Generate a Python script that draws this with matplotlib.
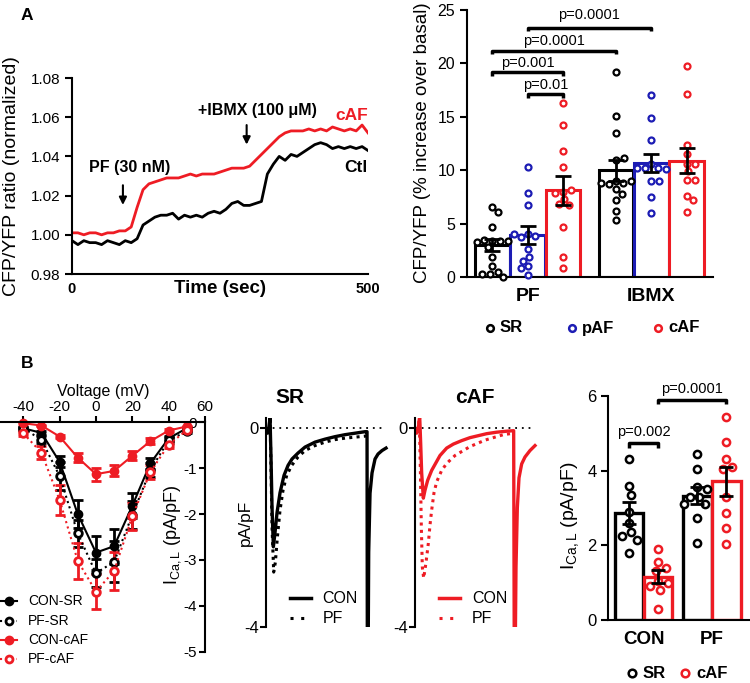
import numpy as np
import matplotlib
matplotlib.use("Agg")
import matplotlib.pyplot as plt
from matplotlib.lines import Line2D
from matplotlib.ticker import FormatStrFormatter

plt.rcParams['font.family'] = ['Liberation Sans', 'DejaVu Sans']
plt.rcParams['mathtext.fontset'] = 'custom'
plt.rcParams['mathtext.rm'] = 'Liberation Sans'
plt.rcParams['mathtext.it'] = 'Liberation Sans:italic'
plt.rcParams['axes.unicode_minus'] = False

RED = '#ee1c24'
BLUE = '#1c1cb4'

# --- A: FRET time course (CFP/YFP ratio) ---
time_s = np.arange(0, 505, 10)
ratio_caf = [1.001, 1.001, 1.000, 1.001, 1.001, 1.000, 1.001, 1.001, 1.002, 1.002,
             1.004, 1.014, 1.023, 1.026, 1.027, 1.028, 1.029, 1.029, 1.029, 1.030,
             1.031, 1.030, 1.031, 1.031, 1.031, 1.032, 1.033, 1.034, 1.034, 1.034,
             1.035, 1.038, 1.041, 1.044, 1.047, 1.050, 1.052, 1.053, 1.053, 1.053,
             1.054, 1.053, 1.054, 1.053, 1.055, 1.054, 1.053, 1.054, 1.053, 1.056, 1.052]
ratio_ctl = [0.997, 0.995, 0.997, 0.996, 0.996, 0.995, 0.997, 0.996, 0.995, 0.997,
             0.996, 0.998, 1.005, 1.007, 1.009, 1.010, 1.010, 1.011, 1.008, 1.010,
             1.009, 1.010, 1.009, 1.011, 1.012, 1.011, 1.013, 1.016, 1.017, 1.015,
             1.015, 1.016, 1.017, 1.031, 1.036, 1.040, 1.038, 1.041, 1.040, 1.042,
             1.044, 1.046, 1.047, 1.046, 1.044, 1.045, 1.044, 1.045, 1.044, 1.045, 1.043]

# --- A: % increase over basal ---
grp_names = ['PF', 'IBMX']
pf_sr = [6.6, 6.1, 4.7, 3.4, 3.4, 3.5, 3.4, 3.3, 2.8, 1.9, 1.0, 0.5, 0.3, 0.3, 0.0]
pf_paf = [10.3, 7.9, 6.7, 4.0, 3.8, 3.7, 4.0, 2.6, 1.9, 1.5, 1.0, 0.8, 0.2]
pf_caf = [16.3, 14.2, 11.8, 10.3, 8.0, 8.1, 7.9, 7.3, 6.8, 6.7, 4.7, 1.9, 0.85]
ib_sr = [19.2, 15.1, 13.5, 11.0, 11.1, 9.0, 8.8, 8.7, 8.8, 9.0, 8.2, 7.8, 7.2, 6.2, 5.3]
ib_paf = [17.0, 14.9, 12.8, 10.6, 10.2, 10.2, 10.1, 10.2, 9.0, 9.0, 7.5, 6.0]
ib_caf = [19.8, 17.1, 12.4, 11.5, 10.6, 10.6, 9.9, 9.1, 9.1, 7.6, 7.2, 6.1]
a_means = [3.0, 3.9, 8.1, 10.0, 10.7, 10.9]
a_sems = [0.6, 0.85, 1.35, 1.0, 0.85, 1.15]

# --- B: I-V relation ---
volt = [-40, -30, -20, -10, 0, 10, 20, 30, 40, 50]
iv_con_sr = [-0.13, -0.23, -0.86, -2.0, -2.84, -2.70, -1.82, -0.89, -0.35, -0.13]
iv_con_sr_e = [0.03, 0.05, 0.12, 0.30, 0.37, 0.38, 0.27, 0.12, 0.05, 0.03]
iv_pf_sr = [-0.13, -0.38, -1.17, -2.42, -3.29, -3.04, -2.02, -1.04, -0.39, -0.20]
iv_pf_sr_e = [0.03, 0.08, 0.30, 0.30, 0.30, 0.45, 0.30, 0.15, 0.06, 0.04]
iv_con_caf = [-0.02, -0.07, -0.31, -0.77, -1.13, -1.06, -0.73, -0.41, -0.18, -0.09]
iv_con_caf_e = [0.02, 0.02, 0.04, 0.10, 0.14, 0.12, 0.10, 0.06, 0.03, 0.02]
iv_pf_caf = [-0.24, -0.66, -1.69, -3.02, -3.69, -3.24, -2.05, -1.08, -0.49, -0.17]
iv_pf_caf_e = [0.05, 0.15, 0.33, 0.40, 0.39, 0.42, 0.30, 0.15, 0.06, 0.03]

# --- B: current traces (ms, pA/pF) ---
sr_con_t = [0, 5, 9, 13, 16, 19, 23, 28, 34, 43, 55, 67, 79, 97, 118, 148, 178, 208,
            238, 268, 298, 304, 305, 307, 309, 313, 319, 328, 337, 349, 361]
sr_con_i = [0.0, -0.1, 0.0, 0.2, -0.6, -1.6, -2.39, -2.1, -1.7, -1.3, -0.95, -0.75,
            -0.62, -0.5, -0.38, -0.28, -0.22, -0.17, -0.13, -0.1, -0.07, -0.07, -5.0,
            -5.0, -2.5, -1.31, -0.9, -0.62, -0.52, -0.45, -0.40]
sr_pf_t = [0, 5, 9, 13, 16, 19, 24, 29, 35, 43, 52, 63, 78, 97, 118, 148, 178, 208,
           238, 268, 298, 304]
sr_pf_i = [0.0, -0.1, 0.0, 0.15, -0.8, -2.0, -2.9, -2.7, -2.2, -1.65, -1.25, -0.95,
           -0.75, -0.58, -0.45, -0.35, -0.28, -0.23, -0.2, -0.18, -0.16, -0.15]
caf_con_t = [0, 5, 10, 14, 17, 20, 25, 30, 38, 50, 65, 75, 95, 115, 140, 165, 190,
             215, 245, 275, 296, 298, 300, 303, 307, 312, 320, 330, 345, 360]
caf_con_i = [0.0, -0.1, 0.0, 0.25, -0.3, -0.9, -1.41, -1.25, -1.05, -0.85, -0.67,
             -0.55, -0.4, -0.32, -0.25, -0.19, -0.15, -0.11, -0.08, -0.06, -0.05,
             -5.0, -5.0, -2.8, -1.6, -1.0, -0.72, -0.58, -0.45, -0.35]
caf_pf_t = [0, 5, 10, 13, 16, 19, 22, 26, 30, 35, 40, 45, 50, 57, 65, 80, 95, 120,
            165, 210, 265, 296]
caf_pf_i = [0.0, -0.1, 0.0, 0.2, -0.8, -2.0, -2.8, -3.02, -2.85, -2.6, -2.32, -1.95,
            -1.65, -1.3, -1.08, -0.85, -0.71, -0.55, -0.37, -0.24, -0.13, -0.1]

# --- B: peak ICa,L bars ---
b_groups = ['CON', 'PF']
con_sr_pts = [4.3, 3.6, 3.35, 2.9, 2.6, 2.35, 2.25, 2.15, 1.8]
con_caf_pts = [1.9, 1.55, 1.4, 1.3, 1.05, 1.0, 0.9, 0.8, 0.3]
pf_sr_pts = [4.45, 4.05, 3.55, 3.5, 3.3, 3.3, 3.1, 3.1, 2.72, 2.05]
pf_caf_pts = [5.45, 4.78, 4.3, 4.1, 4.05, 3.3, 2.87, 2.46, 2.03]
b_means = [2.86, 1.16, 3.33, 3.71]
b_sems = [0.3, 0.17, 0.23, 0.4]

W, H = 750, 683
fig = plt.figure(figsize=(W / 100, H / 100), dpi=100)


def box(l, t, r, b):
    return [l / W, 1 - b / H, (r - l) / W, (b - t) / H]


def fx(px):
    return px / W


def fy(py):
    return 1 - py / H


def swarm(vals, xpx, ypx, d):
    # simple greedy beeswarm, offsets in bar units
    steps = np.arange(0.5, 30, 0.5)
    cand = np.concatenate([[0.0], np.column_stack([steps, -steps]).ravel()])
    placed, offs = [], []
    for v in vals:
        y = v * ypx
        for c in cand:
            if all((c - px) ** 2 + (y - py) ** 2 >= d * d for px, py in placed):
                break
        placed.append((c, y))
        offs.append(c / xpx)
    return np.array(offs)


def bracket(ax, x1, x2, y, dy, label, dtext):
    ax.plot([x1, x1, x2, x2], [y - dy, y, y, y - dy], color='k', lw=2.5,
            clip_on=False, solid_capstyle='butt')
    ax.text((x1 + x2) / 2, y + dtext, label, ha='center', va='bottom', fontsize=10.5)


def fig_marker(px, py, color, ms):
    fig.add_artist(Line2D([fx(px)], [fy(py)], transform=fig.transFigure, marker='o',
                          ms=ms, mfc='white', mec=color, mew=1.8, ls='none'))


def fig_line(px1, px2, py, color, ls, lw):
    fig.add_artist(Line2D([fx(px1), fx(px2)], [fy(py), fy(py)], transform=fig.transFigure,
                          color=color, ls=ls, lw=lw))


def style(ax):
    for s in ['top', 'right']:
        ax.spines[s].set_visible(False)
    for s in ['left', 'bottom']:
        ax.spines[s].set_linewidth(1.5)
    ax.tick_params(width=1.5, length=5)


# ---------- A left ----------
ax = fig.add_axes(box(72, 78, 368, 274))
ax.plot(time_s, ratio_ctl, color='k', lw=2)
ax.plot(time_s, ratio_caf, color=RED, lw=2)
ax.set_xlim(0, 500)
ax.set_ylim(0.98, 1.08)
style(ax)
ax.set_yticks([0.98, 1.00, 1.02, 1.04, 1.06, 1.08])
ax.yaxis.set_major_formatter(FormatStrFormatter('%.2f'))
ax.tick_params(axis='y', labelsize=11)
ax.set_xticks([0, 500])
ax.set_xticklabels(['0', '500'], fontweight='bold', fontsize=10.5)
ax.tick_params(axis='x', length=0, pad=6)
arrow = dict(arrowstyle='-|>', color='k', lw=1.5, mutation_scale=11)
ax.annotate('', xy=(86, 1.0138), xytext=(86, 1.0267), arrowprops=arrow)
ax.annotate('', xy=(295, 1.0446), xytext=(295, 1.0574), arrowprops=arrow)
ax.text(98, 1.0344, 'PF (30 nM)', ha='center', va='center', fontweight='bold', fontsize=11.5)
ax.text(314, 1.0636, '+IBMX (100 μM)', ha='center', va='center', fontweight='bold', fontsize=11.5)
ax.text(473, 1.0610, 'cAF', color=RED, ha='center', va='center', fontweight='bold', fontsize=12.5)
ax.text(480, 1.0344, 'Ctl', ha='center', va='center', fontweight='bold', fontsize=12.5)
fig.text(fx(220), fy(289), 'Time (sec)', ha='center', va='center', fontweight='bold', fontsize=13.5)
fig.text(fx(12), fy(176), 'CFP/YFP ratio (normalized)', rotation=90, ha='center',
         va='center', fontsize=14)
fig.text(fx(27), fy(15), 'A', ha='center', va='center', fontweight='bold', fontsize=12.5)

# ---------- A right ----------
ax2 = fig.add_axes(box(467, 10, 713, 277))
a_pos = [0, 1, 2, 3.5, 4.5, 5.5]
a_cols = ['k', BLUE, RED, 'k', BLUE, RED]
a_pts = [pf_sr, pf_paf, pf_caf, ib_sr, ib_paf, ib_caf]
ax2.bar(a_pos, a_means, width=0.98, facecolor='white', edgecolor=a_cols, linewidth=2.2, zorder=1)
for p, v, c in zip(a_pos, a_pts, a_cols):
    off = swarm(v, 35.3, 10.68, 7.6)
    ax2.plot(p + off, v, 'o', ms=4.3, mfc='white', mec=c, mew=1.6, zorder=3, clip_on=False)
ax2.errorbar(a_pos, a_means, yerr=a_sems, fmt='none', ecolor='k', elinewidth=2,
             capsize=6, capthick=2, zorder=4)
ax2.set_xlim(-0.72, 6.25)
ax2.set_ylim(0, 25)
style(ax2)
ax2.set_yticks([0, 5, 10, 15, 20, 25])
ax2.tick_params(axis='y', labelsize=11.5)
ax2.set_xticks([1, 4.5])
ax2.set_xticklabels(grp_names, fontweight='bold', fontsize=14)
ax2.tick_params(axis='x', length=0, pad=8)
bracket(ax2, 1, 2, 17.1, 0.3, 'p=0.01', 0.25)
bracket(ax2, 0, 2, 19.15, 0.3, 'p=0.001', 0.25)
bracket(ax2, 0, 3.5, 21.15, 0.3, 'p=0.0001', 0.25)
bracket(ax2, 1, 4.5, 23.3, 0.3, 'p=0.0001', 0.55)
fig.text(fx(423), fy(143), 'CFP/YFP (% increase over basal)', rotation=90, ha='center',
         va='center', fontsize=13.5)
for px, lab, c in [(490, 'SR', 'k'), (571.7, 'pAF', BLUE), (658, 'cAF', RED)]:
    fig_marker(px, 328, c, 4.8)
    fig.text(fx(px + 10), fy(328), lab, ha='left', va='center', fontweight='bold', fontsize=12)

# ---------- B left: I-V ----------
ax3 = fig.add_axes(box(1.4, 422.3, 205, 651.7))
ax3.set_facecolor('none')
iv_sets = [
    (iv_con_sr, iv_con_sr_e, 'k', '-', 'k'),
    (iv_pf_sr, iv_pf_sr_e, 'k', ':', 'white'),
    (iv_con_caf, iv_con_caf_e, RED, '-', RED),
    (iv_pf_caf, iv_pf_caf_e, RED, ':', 'white'),
]
for y, e, c, ls, mf in iv_sets:
    cont = ax3.errorbar(volt, y, yerr=e, color=c, ls=ls, lw=1.5, marker='o',
                        ms=5 if mf != 'white' else 5.5, mfc=mf, mec=c, mew=2,
                        elinewidth=2, ecolor=c, capsize=3.5, capthick=2)
    for art in cont.get_children():
        art.set_clip_on(False)
ax3.set_xlim(-52, 60)
ax3.set_ylim(-5, 0)
ax3.spines['right'].set_visible(False)
ax3.spines['bottom'].set_visible(False)
ax3.spines['left'].set_position(('data', 60))
ax3.spines['left'].set_linewidth(1.5)
ax3.spines['top'].set_linewidth(1.5)
ax3.xaxis.tick_top()
ax3.xaxis.set_label_position('top')
ax3.set_xticks([-40, -20, 0, 20, 40, 60])
ax3.set_yticks([0, -1, -2, -3, -4, -5])
ax3.tick_params(width=1.5, length=4, labelsize=11, pad=2)
ax3.set_xlabel('Voltage (mV)', fontsize=11.5, labelpad=3)
fig.text(fx(173), fy(535), r'I$_{\rm Ca,L}$ (pA/pF)', rotation=90, ha='center',
         va='center', fontsize=13)
leg_iv = [('CON-SR', 'k', '-', 'k'), ('PF-SR', 'k', ':', 'white'),
          ('CON-cAF', RED, '-', RED), ('PF-cAF', RED, ':', 'white')]
for py, (lab, c, ls, mf) in zip([600.7, 620.7, 640, 659], leg_iv):
    fig.add_artist(Line2D([fx(0), fx(17)], [fy(py), fy(py)], transform=fig.transFigure,
                          color=c, ls=ls, lw=1.5))
    fig.add_artist(Line2D([fx(9)], [fy(py)], transform=fig.transFigure, marker='o',
                          ms=5, mfc=mf, mec=c, mew=2, ls='none'))
    fig.text(fx(28), fy(py), lab, ha='left', va='center', fontsize=10)
fig.text(fx(27), fy(364), 'B', ha='center', va='center', fontweight='bold', fontsize=12.5)

# ---------- B middle: traces ----------
for left, title, col, tcon, icon, tpf, ipf, tx in [
        (265.7, 'SR', 'k', sr_con_t, sr_con_i, sr_pf_t, sr_pf_i, 290),
        (415, 'cAF', RED, caf_con_t, caf_con_i, caf_pf_t, caf_pf_i, 475)]:
    axt = fig.add_axes(box(left, 418.3, left + 125, 626.7))
    axt.set_facecolor('none')
    axt.plot([0, 355], [0, 0], color='k', ls=(0, (1, 2.7)), lw=1.3)
    axt.plot(tpf, ipf, color=col, ls=(0, (1, 1.4)), lw=2.2)
    axt.plot(tcon, icon, color=col, lw=2.4)
    axt.set_xlim(0, 375)
    axt.set_ylim(-4, 0.2)
    for s in ['top', 'right', 'bottom']:
        axt.spines[s].set_visible(False)
    axt.spines['left'].set_linewidth(1.5)
    axt.set_xticks([])
    axt.set_yticks([0, -4])
    axt.tick_params(width=1.5, length=4, labelsize=12, pad=1)
    fig.text(fx(tx), fy(397), title, ha='center', va='center', fontweight='bold', fontsize=15)
    lx = left + 24
    fig_line(lx, lx + 21, 598.3, col, '-', 2.5)
    fig_line(lx, lx + 21, 618.3, col, (0, (1, 2.5)), 2.2)
    fig.text(fx(lx + 33), fy(598.3), 'CON', ha='left', va='center', fontsize=11.5)
    fig.text(fx(lx + 33), fy(618.3), 'PF', ha='left', va='center', fontsize=11.5)
fig.text(fx(245), fy(523), 'pA/pF', rotation=90, ha='center', va='center', fontsize=12.5)

# ---------- B right: bars ----------
ax6 = fig.add_axes(box(608.3, 396, 749.3, 620))
b_pos = [0, 1, 2.35, 3.35]
b_cols = ['k', RED, 'k', RED]
b_pts = [con_sr_pts, con_caf_pts, pf_sr_pts, pf_caf_pts]
ax6.bar(b_pos, b_means, width=0.98, facecolor='white', edgecolor=b_cols, linewidth=2.4, zorder=1)
for p, v, c in zip(b_pos, b_pts, b_cols):
    off = swarm(v, 29, 37.33, 9.5)
    ax6.plot(p + off, v, 'o', ms=5.2, mfc='white', mec=c, mew=1.8, zorder=3, clip_on=False)
ax6.errorbar(b_pos, b_means, yerr=b_sems, fmt='none', ecolor='k', elinewidth=2,
             capsize=5, capthick=2, zorder=4)
ax6.set_xlim(-0.72, 4.14)
ax6.set_ylim(0, 6)
style(ax6)
ax6.set_yticks([0, 2, 4, 6])
ax6.tick_params(axis='y', labelsize=12)
ax6.set_xticks([0.5, 2.85])
ax6.set_xticklabels(b_groups, fontweight='bold', fontsize=13.5)
ax6.tick_params(axis='x', length=0, pad=8)
bracket(ax6, 0, 1, 4.75, 0.13, 'p=0.002', 0.1)
bracket(ax6, 1, 3.35, 5.9, 0.12, 'p=0.0001', 0.1)
fig.text(fx(570), fy(516), r'I$_{\rm Ca,L}$ (pA/pF)', rotation=90, ha='center',
         va='center', fontsize=14)
for px, lab, c in [(631.7, 'SR', 'k'), (685, 'cAF', RED)]:
    fig_marker(px, 673, c, 5.5)
    fig.text(fx(px + 11), fy(673), lab, ha='left', va='center', fontweight='bold', fontsize=12)

fig.savefig('out.png', dpi=100)
